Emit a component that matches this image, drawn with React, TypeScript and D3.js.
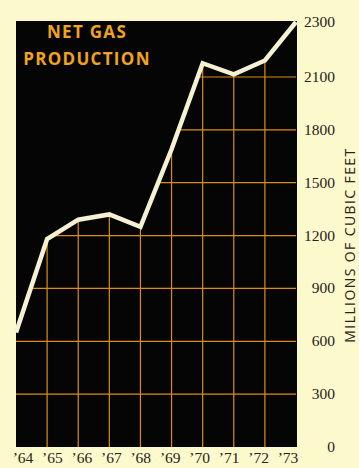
import React from "react";
import * as d3 from "d3";

const years = [1964, 1965, 1966, 1967, 1968, 1969, 1970, 1971, 1972, 1973];
const yearLabels = ["’64", "’65", "’66", "’67", "’68", "’69", "’70", "’71", "’72", "’73"];
const production = [650, 1180, 1290, 1320, 1250, 1690, 2150, 2110, 2160, 2300];
const yTicks = [0, 300, 600, 900, 1200, 1500, 1800, 2100, 2300];
const gridValues = [300, 600, 900, 1200, 1500, 1800, 2100];
const titleLines = ["NET GAS", "PRODUCTION"];
const axisTitle = "MILLIONS OF CUBIC FEET";

const W = 359;
const H = 468;
const plot = { left: 16, right: 297, top: 21, bottom: 447 };

export default function App() {
  const x = d3.scaleLinear().domain([1964, 1973]).range([plot.left, plot.right - 1]);
  // labels in the original sit slightly inside the frame at both ends
  const xLabel = d3.scaleLinear().domain([1964, 1973]).range([23, 288]);
  // the original axis is drawn with uneven spacing at the top (2100 -> 2300)
  const y = d3.scaleLinear().domain([0, 2100, 2300]).range([plot.bottom, 77, 22]);

  const pts = years.map((yr, i) => [yr, production[i]] as [number, number]);
  const line = d3.line<[number, number]>().x((d) => x(d[0])).y((d) => y(d[1]));
  const area = d3
    .area<[number, number]>()
    .x((d) => x(d[0]))
    .y0(plot.bottom)
    .y1((d) => y(d[1]));

  const bg = "#fcf9cc";
  const orange = "#dc8e12";
  const ink = "#27231a";

  return (
    <svg
      width={W}
      height={H}
      style={{ position: "absolute", left: 0, top: 0, display: "block" }}
    >
      <defs>
        <clipPath id="under">
          <path d={area(pts) || ""} />
        </clipPath>
      </defs>
      <rect x={0} y={0} width={W} height={H} fill={bg} />
      <rect
        x={plot.left}
        y={plot.top}
        width={plot.right - plot.left}
        height={plot.bottom - plot.top}
        fill="#050505"
      />
      <g clipPath="url(#under)">
        {gridValues.map((v) => (
          <line
            key={"h" + v}
            x1={plot.left}
            x2={plot.right}
            y1={y(v)}
            y2={y(v)}
            stroke={orange}
            strokeWidth={1.2}
          />
        ))}
        {years.slice(1, -1).map((yr) => (
          <line
            key={"v" + yr}
            x1={x(yr)}
            x2={x(yr)}
            y1={plot.top}
            y2={plot.bottom}
            stroke={orange}
            strokeWidth={1.2}
          />
        ))}
      </g>
      <path
        d={line(pts) || ""}
        fill="none"
        stroke="#f6f1d2"
        strokeWidth={4.5}
        strokeLinejoin="miter"
      />
      {titleLines.map((t, i) => (
        <text
          key={t}
          x={87}
          y={38 + i * 27}
          textAnchor="middle"
          fill="#f2a41c"
          fontFamily="'Open Sans', sans-serif"
          fontWeight={700}
          fontSize={17}
          letterSpacing={1.3}
        >
          {t}
        </text>
      ))}
      {yTicks.map((v) => (
        <text
          key={"t" + v}
          x={335}
          y={y(v) + 5}
          textAnchor="end"
          fill={ink}
          fontFamily="'Liberation Serif', serif"
          fontSize={15.5}
        >
          {v}
        </text>
      ))}
      {years.map((yr, i) => (
        <text
          key={"x" + yr}
          x={xLabel(yr)}
          y={463}
          textAnchor="middle"
          fill={ink}
          fontFamily="'Liberation Serif', serif"
          fontSize={15.5}
        >
          {yearLabels[i]}
        </text>
      ))}
      <text
        transform={`translate(355,245) rotate(-90)`}
        textAnchor="middle"
        fill={ink}
        fontFamily="'Open Sans', sans-serif"
        fontSize={14}
        letterSpacing={1.4}
      >
        {axisTitle}
      </text>
    </svg>
  );
}
